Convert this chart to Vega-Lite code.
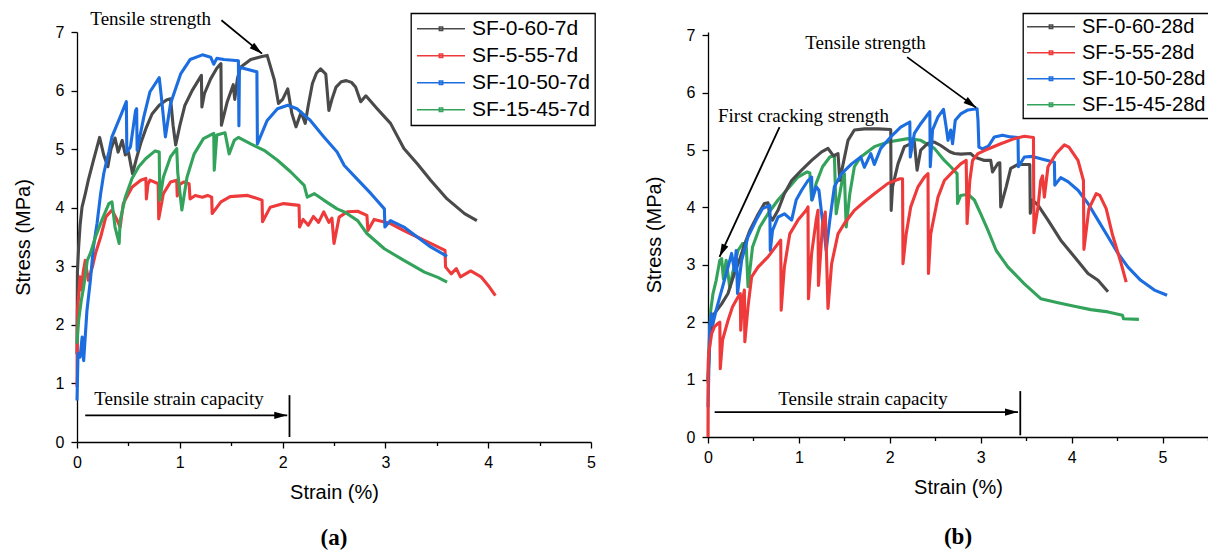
{
"$schema":"https://vega.github.io/schema/vega-lite/v6.json",
"background":"white",
"padding":{"left":13,"top":9,"right":0,"bottom":0},
"spacing":48,
"resolve":{"scale":{"color":"independent"},"legend":{"color":"independent"}},
"config":{
 "view":{"stroke":null},
 "font":"Liberation Sans",
 "axis":{"grid":false,"domainColor":"#000","domainWidth":1.3,"tickColor":"#000","tickWidth":1.3,"labelFont":"Liberation Sans","labelFontSize":16,"labelColor":"#000","titleFont":"Liberation Sans","titleFontSize":20,"titleFontWeight":"normal","titleColor":"#000","labelFlush":false,"labelOverlap":false},
 "legend":{"title":null,"orient":"none","strokeColor":"#000","strokeWidth":1.3,"fillColor":"#fff","labelFont":"Liberation Sans","labelColor":"#000","symbolType":"M-1,0H1M-0.07,-0.07H0.07V0.07H-0.07Z","symbolSize":2304,"symbolStrokeWidth":1.5,"labelOffset":6,"clipHeight":21,"rowPadding":5}
},
"datasets":{
"a":[
{"s":"SF-0-60-7d","x":0,"y":1.5},{"s":"SF-0-60-7d","x":0.004,"y":2.9},{"s":"SF-0-60-7d","x":0.016,"y":3.33},{"s":"SF-0-60-7d","x":0.03,"y":3.7},{"s":"SF-0-60-7d","x":0.049,"y":4.01},{"s":"SF-0-60-7d","x":0.081,"y":4.24},{"s":"SF-0-60-7d","x":0.11,"y":4.47},{"s":"SF-0-60-7d","x":0.16,"y":4.81},{"s":"SF-0-60-7d","x":0.22,"y":5.2},{"s":"SF-0-60-7d","x":0.26,"y":4.9},{"s":"SF-0-60-7d","x":0.3,"y":4.7},{"s":"SF-0-60-7d","x":0.33,"y":5.0},{"s":"SF-0-60-7d","x":0.37,"y":5.19},{"s":"SF-0-60-7d","x":0.4,"y":4.95},{"s":"SF-0-60-7d","x":0.44,"y":5.15},{"s":"SF-0-60-7d","x":0.47,"y":4.9},{"s":"SF-0-60-7d","x":0.5,"y":4.95},{"s":"SF-0-60-7d","x":0.54,"y":4.58},{"s":"SF-0-60-7d","x":0.58,"y":4.85},{"s":"SF-0-60-7d","x":0.62,"y":5.1},{"s":"SF-0-60-7d","x":0.67,"y":5.35},{"s":"SF-0-60-7d","x":0.73,"y":5.6},{"s":"SF-0-60-7d","x":0.8,"y":5.75},{"s":"SF-0-60-7d","x":0.87,"y":5.84},{"s":"SF-0-60-7d","x":0.91,"y":5.86},{"s":"SF-0-60-7d","x":0.935,"y":5.4},{"s":"SF-0-60-7d","x":0.96,"y":5.07},{"s":"SF-0-60-7d","x":1.0,"y":5.4},{"s":"SF-0-60-7d","x":1.05,"y":5.75},{"s":"SF-0-60-7d","x":1.12,"y":6.0},{"s":"SF-0-60-7d","x":1.21,"y":6.26},{"s":"SF-0-60-7d","x":1.215,"y":5.72},{"s":"SF-0-60-7d","x":1.24,"y":5.95},{"s":"SF-0-60-7d","x":1.3,"y":6.2},{"s":"SF-0-60-7d","x":1.36,"y":6.38},{"s":"SF-0-60-7d","x":1.4,"y":6.46},{"s":"SF-0-60-7d","x":1.405,"y":5.41},{"s":"SF-0-60-7d","x":1.46,"y":5.8},{"s":"SF-0-60-7d","x":1.52,"y":6.1},{"s":"SF-0-60-7d","x":1.535,"y":5.85},{"s":"SF-0-60-7d","x":1.56,"y":6.2},{"s":"SF-0-60-7d","x":1.59,"y":6.4},{"s":"SF-0-60-7d","x":1.69,"y":6.53},{"s":"SF-0-60-7d","x":1.8,"y":6.58},{"s":"SF-0-60-7d","x":1.85,"y":6.6},{"s":"SF-0-60-7d","x":1.92,"y":6.18},{"s":"SF-0-60-7d","x":1.96,"y":5.78},{"s":"SF-0-60-7d","x":2.0,"y":5.85},{"s":"SF-0-60-7d","x":2.05,"y":6.03},{"s":"SF-0-60-7d","x":2.09,"y":5.61},{"s":"SF-0-60-7d","x":2.13,"y":5.38},{"s":"SF-0-60-7d","x":2.18,"y":5.63},{"s":"SF-0-60-7d","x":2.22,"y":5.44},{"s":"SF-0-60-7d","x":2.25,"y":5.75},{"s":"SF-0-60-7d","x":2.29,"y":6.12},{"s":"SF-0-60-7d","x":2.33,"y":6.3},{"s":"SF-0-60-7d","x":2.37,"y":6.37},{"s":"SF-0-60-7d","x":2.42,"y":6.28},{"s":"SF-0-60-7d","x":2.45,"y":5.66},{"s":"SF-0-60-7d","x":2.48,"y":5.85},{"s":"SF-0-60-7d","x":2.52,"y":6.06},{"s":"SF-0-60-7d","x":2.57,"y":6.15},{"s":"SF-0-60-7d","x":2.62,"y":6.17},{"s":"SF-0-60-7d","x":2.67,"y":6.14},{"s":"SF-0-60-7d","x":2.71,"y":6.06},{"s":"SF-0-60-7d","x":2.76,"y":5.81},{"s":"SF-0-60-7d","x":2.81,"y":5.91},{"s":"SF-0-60-7d","x":2.92,"y":5.69},{"s":"SF-0-60-7d","x":3.05,"y":5.44},{"s":"SF-0-60-7d","x":3.18,"y":5.01},{"s":"SF-0-60-7d","x":3.31,"y":4.75},{"s":"SF-0-60-7d","x":3.44,"y":4.47},{"s":"SF-0-60-7d","x":3.6,"y":4.15},{"s":"SF-0-60-7d","x":3.77,"y":3.9},{"s":"SF-0-60-7d","x":3.89,"y":3.78},
{"s":"SF-5-55-7d","x":0,"y":0.94},{"s":"SF-5-55-7d","x":0.004,"y":2.25},{"s":"SF-5-55-7d","x":0.016,"y":2.48},{"s":"SF-5-55-7d","x":0.03,"y":2.82},{"s":"SF-5-55-7d","x":0.045,"y":2.6},{"s":"SF-5-55-7d","x":0.06,"y":2.9},{"s":"SF-5-55-7d","x":0.08,"y":3.1},{"s":"SF-5-55-7d","x":0.11,"y":2.76},{"s":"SF-5-55-7d","x":0.15,"y":2.99},{"s":"SF-5-55-7d","x":0.18,"y":3.22},{"s":"SF-5-55-7d","x":0.23,"y":3.5},{"s":"SF-5-55-7d","x":0.28,"y":3.84},{"s":"SF-5-55-7d","x":0.34,"y":3.96},{"s":"SF-5-55-7d","x":0.39,"y":3.79},{"s":"SF-5-55-7d","x":0.42,"y":3.67},{"s":"SF-5-55-7d","x":0.45,"y":4.07},{"s":"SF-5-55-7d","x":0.535,"y":4.35},{"s":"SF-5-55-7d","x":0.62,"y":4.47},{"s":"SF-5-55-7d","x":0.67,"y":4.5},{"s":"SF-5-55-7d","x":0.675,"y":4.15},{"s":"SF-5-55-7d","x":0.69,"y":4.4},{"s":"SF-5-55-7d","x":0.71,"y":4.47},{"s":"SF-5-55-7d","x":0.79,"y":4.41},{"s":"SF-5-55-7d","x":0.795,"y":3.81},{"s":"SF-5-55-7d","x":0.84,"y":4.24},{"s":"SF-5-55-7d","x":0.91,"y":4.44},{"s":"SF-5-55-7d","x":0.97,"y":4.47},{"s":"SF-5-55-7d","x":0.975,"y":4.2},{"s":"SF-5-55-7d","x":1.0,"y":4.4},{"s":"SF-5-55-7d","x":1.04,"y":4.44},{"s":"SF-5-55-7d","x":1.09,"y":4.41},{"s":"SF-5-55-7d","x":1.1,"y":4.15},{"s":"SF-5-55-7d","x":1.15,"y":4.21},{"s":"SF-5-55-7d","x":1.22,"y":4.18},{"s":"SF-5-55-7d","x":1.27,"y":4.21},{"s":"SF-5-55-7d","x":1.31,"y":4.18},{"s":"SF-5-55-7d","x":1.315,"y":3.9},{"s":"SF-5-55-7d","x":1.4,"y":4.1},{"s":"SF-5-55-7d","x":1.49,"y":4.19},{"s":"SF-5-55-7d","x":1.66,"y":4.21},{"s":"SF-5-55-7d","x":1.8,"y":4.13},{"s":"SF-5-55-7d","x":1.805,"y":3.76},{"s":"SF-5-55-7d","x":1.88,"y":4.01},{"s":"SF-5-55-7d","x":2.01,"y":4.07},{"s":"SF-5-55-7d","x":2.16,"y":4.04},{"s":"SF-5-55-7d","x":2.165,"y":3.67},{"s":"SF-5-55-7d","x":2.2,"y":3.8},{"s":"SF-5-55-7d","x":2.25,"y":3.7},{"s":"SF-5-55-7d","x":2.3,"y":3.85},{"s":"SF-5-55-7d","x":2.35,"y":3.75},{"s":"SF-5-55-7d","x":2.4,"y":3.93},{"s":"SF-5-55-7d","x":2.45,"y":3.75},{"s":"SF-5-55-7d","x":2.48,"y":3.82},{"s":"SF-5-55-7d","x":2.5,"y":3.39},{"s":"SF-5-55-7d","x":2.55,"y":3.84},{"s":"SF-5-55-7d","x":2.63,"y":3.93},{"s":"SF-5-55-7d","x":2.73,"y":3.94},{"s":"SF-5-55-7d","x":2.82,"y":3.87},{"s":"SF-5-55-7d","x":2.83,"y":3.61},{"s":"SF-5-55-7d","x":2.89,"y":3.8},{"s":"SF-5-55-7d","x":3.05,"y":3.73},{"s":"SF-5-55-7d","x":3.18,"y":3.61},{"s":"SF-5-55-7d","x":3.31,"y":3.5},{"s":"SF-5-55-7d","x":3.44,"y":3.39},{"s":"SF-5-55-7d","x":3.58,"y":3.27},{"s":"SF-5-55-7d","x":3.585,"y":2.99},{"s":"SF-5-55-7d","x":3.64,"y":2.87},{"s":"SF-5-55-7d","x":3.69,"y":2.96},{"s":"SF-5-55-7d","x":3.73,"y":2.82},{"s":"SF-5-55-7d","x":3.83,"y":2.92},{"s":"SF-5-55-7d","x":3.93,"y":2.82},{"s":"SF-5-55-7d","x":4.01,"y":2.65},{"s":"SF-5-55-7d","x":4.07,"y":2.5},
{"s":"SF-10-50-7d","x":0,"y":0.71},{"s":"SF-10-50-7d","x":0.01,"y":1.51},{"s":"SF-10-50-7d","x":0.03,"y":1.45},{"s":"SF-10-50-7d","x":0.05,"y":1.79},{"s":"SF-10-50-7d","x":0.065,"y":1.39},{"s":"SF-10-50-7d","x":0.097,"y":2.25},{"s":"SF-10-50-7d","x":0.13,"y":2.76},{"s":"SF-10-50-7d","x":0.16,"y":3.33},{"s":"SF-10-50-7d","x":0.195,"y":3.73},{"s":"SF-10-50-7d","x":0.23,"y":4.24},{"s":"SF-10-50-7d","x":0.26,"y":4.58},{"s":"SF-10-50-7d","x":0.29,"y":4.81},{"s":"SF-10-50-7d","x":0.31,"y":4.95},{"s":"SF-10-50-7d","x":0.34,"y":5.21},{"s":"SF-10-50-7d","x":0.42,"y":5.55},{"s":"SF-10-50-7d","x":0.48,"y":5.81},{"s":"SF-10-50-7d","x":0.485,"y":4.95},{"s":"SF-10-50-7d","x":0.52,"y":5.04},{"s":"SF-10-50-7d","x":0.57,"y":5.66},{"s":"SF-10-50-7d","x":0.58,"y":5.69},{"s":"SF-10-50-7d","x":0.585,"y":4.98},{"s":"SF-10-50-7d","x":0.65,"y":5.55},{"s":"SF-10-50-7d","x":0.71,"y":5.98},{"s":"SF-10-50-7d","x":0.8,"y":6.22},{"s":"SF-10-50-7d","x":0.82,"y":5.9},{"s":"SF-10-50-7d","x":0.86,"y":5.21},{"s":"SF-10-50-7d","x":0.91,"y":5.78},{"s":"SF-10-50-7d","x":1.01,"y":6.29},{"s":"SF-10-50-7d","x":1.1,"y":6.53},{"s":"SF-10-50-7d","x":1.22,"y":6.61},{"s":"SF-10-50-7d","x":1.3,"y":6.57},{"s":"SF-10-50-7d","x":1.33,"y":6.45},{"s":"SF-10-50-7d","x":1.36,"y":6.55},{"s":"SF-10-50-7d","x":1.43,"y":6.53},{"s":"SF-10-50-7d","x":1.57,"y":6.51},{"s":"SF-10-50-7d","x":1.575,"y":5.4},{"s":"SF-10-50-7d","x":1.58,"y":6.4},{"s":"SF-10-50-7d","x":1.75,"y":6.32},{"s":"SF-10-50-7d","x":1.755,"y":5.09},{"s":"SF-10-50-7d","x":1.85,"y":5.49},{"s":"SF-10-50-7d","x":1.95,"y":5.69},{"s":"SF-10-50-7d","x":2.05,"y":5.75},{"s":"SF-10-50-7d","x":2.14,"y":5.69},{"s":"SF-10-50-7d","x":2.27,"y":5.49},{"s":"SF-10-50-7d","x":2.4,"y":5.21},{"s":"SF-10-50-7d","x":2.53,"y":4.95},{"s":"SF-10-50-7d","x":2.6,"y":4.72},{"s":"SF-10-50-7d","x":2.73,"y":4.48},{"s":"SF-10-50-7d","x":2.86,"y":4.24},{"s":"SF-10-50-7d","x":2.99,"y":3.98},{"s":"SF-10-50-7d","x":2.995,"y":3.67},{"s":"SF-10-50-7d","x":3.05,"y":3.78},{"s":"SF-10-50-7d","x":3.18,"y":3.67},{"s":"SF-10-50-7d","x":3.31,"y":3.5},{"s":"SF-10-50-7d","x":3.44,"y":3.33},{"s":"SF-10-50-7d","x":3.6,"y":3.17},
{"s":"SF-15-45-7d","x":0,"y":1.68},{"s":"SF-15-45-7d","x":0.016,"y":2.08},{"s":"SF-15-45-7d","x":0.04,"y":2.4},{"s":"SF-15-45-7d","x":0.065,"y":2.65},{"s":"SF-15-45-7d","x":0.1,"y":3.1},{"s":"SF-15-45-7d","x":0.13,"y":3.22},{"s":"SF-15-45-7d","x":0.18,"y":3.5},{"s":"SF-15-45-7d","x":0.24,"y":3.78},{"s":"SF-15-45-7d","x":0.31,"y":4.07},{"s":"SF-15-45-7d","x":0.34,"y":4.1},{"s":"SF-15-45-7d","x":0.37,"y":3.67},{"s":"SF-15-45-7d","x":0.41,"y":3.39},{"s":"SF-15-45-7d","x":0.42,"y":3.78},{"s":"SF-15-45-7d","x":0.47,"y":4.18},{"s":"SF-15-45-7d","x":0.535,"y":4.5},{"s":"SF-15-45-7d","x":0.6,"y":4.7},{"s":"SF-15-45-7d","x":0.67,"y":4.84},{"s":"SF-15-45-7d","x":0.76,"y":4.97},{"s":"SF-15-45-7d","x":0.8,"y":4.95},{"s":"SF-15-45-7d","x":0.805,"y":4.13},{"s":"SF-15-45-7d","x":0.84,"y":4.52},{"s":"SF-15-45-7d","x":0.91,"y":4.87},{"s":"SF-15-45-7d","x":0.97,"y":5.01},{"s":"SF-15-45-7d","x":0.98,"y":4.6},{"s":"SF-15-45-7d","x":1.02,"y":3.96},{"s":"SF-15-45-7d","x":1.07,"y":4.52},{"s":"SF-15-45-7d","x":1.14,"y":4.92},{"s":"SF-15-45-7d","x":1.23,"y":5.18},{"s":"SF-15-45-7d","x":1.33,"y":5.27},{"s":"SF-15-45-7d","x":1.335,"y":4.64},{"s":"SF-15-45-7d","x":1.36,"y":5.24},{"s":"SF-15-45-7d","x":1.44,"y":5.28},{"s":"SF-15-45-7d","x":1.48,"y":4.92},{"s":"SF-15-45-7d","x":1.53,"y":5.15},{"s":"SF-15-45-7d","x":1.57,"y":5.2},{"s":"SF-15-45-7d","x":1.69,"y":5.09},{"s":"SF-15-45-7d","x":1.82,"y":4.98},{"s":"SF-15-45-7d","x":1.95,"y":4.81},{"s":"SF-15-45-7d","x":2.08,"y":4.61},{"s":"SF-15-45-7d","x":2.21,"y":4.38},{"s":"SF-15-45-7d","x":2.24,"y":4.18},{"s":"SF-15-45-7d","x":2.31,"y":4.24},{"s":"SF-15-45-7d","x":2.4,"y":4.13},{"s":"SF-15-45-7d","x":2.53,"y":3.98},{"s":"SF-15-45-7d","x":2.6,"y":3.93},{"s":"SF-15-45-7d","x":2.73,"y":3.78},{"s":"SF-15-45-7d","x":2.82,"y":3.56},{"s":"SF-15-45-7d","x":2.99,"y":3.3},{"s":"SF-15-45-7d","x":3.18,"y":3.1},{"s":"SF-15-45-7d","x":3.38,"y":2.9},{"s":"SF-15-45-7d","x":3.51,"y":2.81},{"s":"SF-15-45-7d","x":3.6,"y":2.73}
],
"b":[
{"s":"SF-15-45-28d","x":0,"y":0.93},{"s":"SF-15-45-28d","x":0.007,"y":1.34},{"s":"SF-15-45-28d","x":0.03,"y":2.21},{"s":"SF-15-45-28d","x":0.055,"y":2.5},{"s":"SF-15-45-28d","x":0.09,"y":2.73},{"s":"SF-15-45-28d","x":0.13,"y":3.08},{"s":"SF-15-45-28d","x":0.15,"y":3.11},{"s":"SF-15-45-28d","x":0.17,"y":2.75},{"s":"SF-15-45-28d","x":0.2,"y":3.08},{"s":"SF-15-45-28d","x":0.24,"y":2.6},{"s":"SF-15-45-28d","x":0.27,"y":2.85},{"s":"SF-15-45-28d","x":0.33,"y":3.25},{"s":"SF-15-45-28d","x":0.38,"y":3.37},{"s":"SF-15-45-28d","x":0.42,"y":3.37},{"s":"SF-15-45-28d","x":0.44,"y":2.62},{"s":"SF-15-45-28d","x":0.49,"y":3.31},{"s":"SF-15-45-28d","x":0.57,"y":3.66},{"s":"SF-15-45-28d","x":0.66,"y":3.89},{"s":"SF-15-45-28d","x":0.77,"y":4.13},{"s":"SF-15-45-28d","x":0.88,"y":4.33},{"s":"SF-15-45-28d","x":0.99,"y":4.53},{"s":"SF-15-45-28d","x":1.09,"y":4.62},{"s":"SF-15-45-28d","x":1.12,"y":4.6},{"s":"SF-15-45-28d","x":1.14,"y":4.13},{"s":"SF-15-45-28d","x":1.19,"y":4.42},{"s":"SF-15-45-28d","x":1.26,"y":4.71},{"s":"SF-15-45-28d","x":1.34,"y":4.88},{"s":"SF-15-45-28d","x":1.39,"y":4.91},{"s":"SF-15-45-28d","x":1.41,"y":3.89},{"s":"SF-15-45-28d","x":1.47,"y":4.42},{"s":"SF-15-45-28d","x":1.5,"y":4.59},{"s":"SF-15-45-28d","x":1.52,"y":3.66},{"s":"SF-15-45-28d","x":1.56,"y":4.24},{"s":"SF-15-45-28d","x":1.61,"y":4.71},{"s":"SF-15-45-28d","x":1.68,"y":4.88},{"s":"SF-15-45-28d","x":1.83,"y":5.06},{"s":"SF-15-45-28d","x":1.98,"y":5.14},{"s":"SF-15-45-28d","x":2.2,"y":5.2},{"s":"SF-15-45-28d","x":2.34,"y":5.17},{"s":"SF-15-45-28d","x":2.49,"y":5.03},{"s":"SF-15-45-28d","x":2.6,"y":4.82},{"s":"SF-15-45-28d","x":2.67,"y":4.71},{"s":"SF-15-45-28d","x":2.74,"y":4.59},{"s":"SF-15-45-28d","x":2.745,"y":4.07},{"s":"SF-15-45-28d","x":2.78,"y":4.21},{"s":"SF-15-45-28d","x":2.86,"y":4.23},{"s":"SF-15-45-28d","x":2.93,"y":4.13},{"s":"SF-15-45-28d","x":3.0,"y":3.89},{"s":"SF-15-45-28d","x":3.08,"y":3.6},{"s":"SF-15-45-28d","x":3.17,"y":3.25},{"s":"SF-15-45-28d","x":3.3,"y":2.96},{"s":"SF-15-45-28d","x":3.48,"y":2.67},{"s":"SF-15-45-28d","x":3.66,"y":2.41},{"s":"SF-15-45-28d","x":3.85,"y":2.34},{"s":"SF-15-45-28d","x":4.03,"y":2.28},{"s":"SF-15-45-28d","x":4.21,"y":2.22},{"s":"SF-15-45-28d","x":4.4,"y":2.18},{"s":"SF-15-45-28d","x":4.56,"y":2.12},{"s":"SF-15-45-28d","x":4.57,"y":2.06},{"s":"SF-15-45-28d","x":4.74,"y":2.05},
{"s":"SF-0-60-28d","x":0,"y":1.0},{"s":"SF-0-60-28d","x":0.02,"y":1.69},{"s":"SF-0-60-28d","x":0.07,"y":2.15},{"s":"SF-0-60-28d","x":0.15,"y":2.32},{"s":"SF-0-60-28d","x":0.22,"y":2.5},{"s":"SF-0-60-28d","x":0.29,"y":2.85},{"s":"SF-0-60-28d","x":0.35,"y":3.1},{"s":"SF-0-60-28d","x":0.4,"y":3.35},{"s":"SF-0-60-28d","x":0.46,"y":3.6},{"s":"SF-0-60-28d","x":0.54,"y":3.85},{"s":"SF-0-60-28d","x":0.62,"y":4.07},{"s":"SF-0-60-28d","x":0.66,"y":4.08},{"s":"SF-0-60-28d","x":0.68,"y":3.85},{"s":"SF-0-60-28d","x":0.71,"y":3.78},{"s":"SF-0-60-28d","x":0.77,"y":3.95},{"s":"SF-0-60-28d","x":0.84,"y":4.24},{"s":"SF-0-60-28d","x":0.92,"y":4.47},{"s":"SF-0-60-28d","x":1.03,"y":4.65},{"s":"SF-0-60-28d","x":1.14,"y":4.82},{"s":"SF-0-60-28d","x":1.25,"y":4.97},{"s":"SF-0-60-28d","x":1.32,"y":5.03},{"s":"SF-0-60-28d","x":1.38,"y":4.9},{"s":"SF-0-60-28d","x":1.43,"y":4.94},{"s":"SF-0-60-28d","x":1.45,"y":4.47},{"s":"SF-0-60-28d","x":1.48,"y":4.71},{"s":"SF-0-60-28d","x":1.54,"y":5.17},{"s":"SF-0-60-28d","x":1.61,"y":5.35},{"s":"SF-0-60-28d","x":1.72,"y":5.37},{"s":"SF-0-60-28d","x":1.87,"y":5.37},{"s":"SF-0-60-28d","x":2.01,"y":5.36},{"s":"SF-0-60-28d","x":2.015,"y":3.95},{"s":"SF-0-60-28d","x":2.03,"y":4.36},{"s":"SF-0-60-28d","x":2.09,"y":4.76},{"s":"SF-0-60-28d","x":2.16,"y":5.06},{"s":"SF-0-60-28d","x":2.27,"y":5.14},{"s":"SF-0-60-28d","x":2.3,"y":4.65},{"s":"SF-0-60-28d","x":2.34,"y":5.0},{"s":"SF-0-60-28d","x":2.42,"y":5.12},{"s":"SF-0-60-28d","x":2.49,"y":5.14},{"s":"SF-0-60-28d","x":2.56,"y":5.08},{"s":"SF-0-60-28d","x":2.66,"y":4.97},{"s":"SF-0-60-28d","x":2.71,"y":4.94},{"s":"SF-0-60-28d","x":2.78,"y":4.93},{"s":"SF-0-60-28d","x":2.89,"y":4.94},{"s":"SF-0-60-28d","x":2.93,"y":4.88},{"s":"SF-0-60-28d","x":3.04,"y":4.82},{"s":"SF-0-60-28d","x":3.11,"y":4.82},{"s":"SF-0-60-28d","x":3.13,"y":4.62},{"s":"SF-0-60-28d","x":3.19,"y":4.77},{"s":"SF-0-60-28d","x":3.21,"y":4.78},{"s":"SF-0-60-28d","x":3.22,"y":4.01},{"s":"SF-0-60-28d","x":3.28,"y":4.36},{"s":"SF-0-60-28d","x":3.33,"y":4.68},{"s":"SF-0-60-28d","x":3.41,"y":4.75},{"s":"SF-0-60-28d","x":3.54,"y":4.75},{"s":"SF-0-60-28d","x":3.545,"y":3.9},{"s":"SF-0-60-28d","x":3.57,"y":4.13},{"s":"SF-0-60-28d","x":3.63,"y":4.04},{"s":"SF-0-60-28d","x":3.74,"y":3.78},{"s":"SF-0-60-28d","x":3.88,"y":3.43},{"s":"SF-0-60-28d","x":4.03,"y":3.14},{"s":"SF-0-60-28d","x":4.18,"y":2.85},{"s":"SF-0-60-28d","x":4.29,"y":2.73},{"s":"SF-0-60-28d","x":4.4,"y":2.53},
{"s":"SF-10-50-28d","x":0,"y":0.52},{"s":"SF-10-50-28d","x":0.007,"y":0.99},{"s":"SF-10-50-28d","x":0.018,"y":1.92},{"s":"SF-10-50-28d","x":0.037,"y":2.15},{"s":"SF-10-50-28d","x":0.05,"y":1.95},{"s":"SF-10-50-28d","x":0.09,"y":2.21},{"s":"SF-10-50-28d","x":0.14,"y":2.5},{"s":"SF-10-50-28d","x":0.18,"y":2.73},{"s":"SF-10-50-28d","x":0.22,"y":2.96},{"s":"SF-10-50-28d","x":0.26,"y":3.2},{"s":"SF-10-50-28d","x":0.29,"y":2.9},{"s":"SF-10-50-28d","x":0.31,"y":3.25},{"s":"SF-10-50-28d","x":0.325,"y":2.5},{"s":"SF-10-50-28d","x":0.37,"y":3.08},{"s":"SF-10-50-28d","x":0.44,"y":3.49},{"s":"SF-10-50-28d","x":0.53,"y":3.78},{"s":"SF-10-50-28d","x":0.6,"y":3.98},{"s":"SF-10-50-28d","x":0.68,"y":4.04},{"s":"SF-10-50-28d","x":0.685,"y":3.25},{"s":"SF-10-50-28d","x":0.71,"y":3.6},{"s":"SF-10-50-28d","x":0.77,"y":3.83},{"s":"SF-10-50-28d","x":0.84,"y":3.89},{"s":"SF-10-50-28d","x":0.92,"y":3.78},{"s":"SF-10-50-28d","x":0.97,"y":4.13},{"s":"SF-10-50-28d","x":1.03,"y":4.3},{"s":"SF-10-50-28d","x":1.1,"y":4.47},{"s":"SF-10-50-28d","x":1.14,"y":4.53},{"s":"SF-10-50-28d","x":1.145,"y":4.13},{"s":"SF-10-50-28d","x":1.19,"y":4.36},{"s":"SF-10-50-28d","x":1.22,"y":4.3},{"s":"SF-10-50-28d","x":1.25,"y":3.89},{"s":"SF-10-50-28d","x":1.28,"y":3.54},{"s":"SF-10-50-28d","x":1.3,"y":3.25},{"s":"SF-10-50-28d","x":1.34,"y":3.78},{"s":"SF-10-50-28d","x":1.39,"y":4.36},{"s":"SF-10-50-28d","x":1.47,"y":4.59},{"s":"SF-10-50-28d","x":1.58,"y":4.76},{"s":"SF-10-50-28d","x":1.68,"y":4.88},{"s":"SF-10-50-28d","x":1.72,"y":4.7},{"s":"SF-10-50-28d","x":1.79,"y":4.94},{"s":"SF-10-50-28d","x":1.83,"y":4.75},{"s":"SF-10-50-28d","x":1.9,"y":5.03},{"s":"SF-10-50-28d","x":2.01,"y":5.23},{"s":"SF-10-50-28d","x":2.12,"y":5.4},{"s":"SF-10-50-28d","x":2.22,"y":5.49},{"s":"SF-10-50-28d","x":2.225,"y":4.88},{"s":"SF-10-50-28d","x":2.27,"y":5.29},{"s":"SF-10-50-28d","x":2.34,"y":5.46},{"s":"SF-10-50-28d","x":2.44,"y":5.67},{"s":"SF-10-50-28d","x":2.445,"y":4.71},{"s":"SF-10-50-28d","x":2.47,"y":5.35},{"s":"SF-10-50-28d","x":2.53,"y":5.58},{"s":"SF-10-50-28d","x":2.59,"y":5.71},{"s":"SF-10-50-28d","x":2.62,"y":5.4},{"s":"SF-10-50-28d","x":2.64,"y":5.17},{"s":"SF-10-50-28d","x":2.67,"y":5.35},{"s":"SF-10-50-28d","x":2.69,"y":5.11},{"s":"SF-10-50-28d","x":2.72,"y":5.52},{"s":"SF-10-50-28d","x":2.78,"y":5.63},{"s":"SF-10-50-28d","x":2.86,"y":5.7},{"s":"SF-10-50-28d","x":2.96,"y":5.72},{"s":"SF-10-50-28d","x":2.97,"y":5.52},{"s":"SF-10-50-28d","x":2.98,"y":5.05},{"s":"SF-10-50-28d","x":3.02,"y":5.02},{"s":"SF-10-50-28d","x":3.06,"y":5.05},{"s":"SF-10-50-28d","x":3.09,"y":5.08},{"s":"SF-10-50-28d","x":3.15,"y":5.23},{"s":"SF-10-50-28d","x":3.24,"y":5.26},{"s":"SF-10-50-28d","x":3.33,"y":5.23},{"s":"SF-10-50-28d","x":3.41,"y":5.22},{"s":"SF-10-50-28d","x":3.415,"y":4.71},{"s":"SF-10-50-28d","x":3.48,"y":4.88},{"s":"SF-10-50-28d","x":3.57,"y":4.89},{"s":"SF-10-50-28d","x":3.66,"y":4.85},{"s":"SF-10-50-28d","x":3.81,"y":4.79},{"s":"SF-10-50-28d","x":3.815,"y":4.39},{"s":"SF-10-50-28d","x":3.88,"y":4.52},{"s":"SF-10-50-28d","x":3.96,"y":4.45},{"s":"SF-10-50-28d","x":4.07,"y":4.3},{"s":"SF-10-50-28d","x":4.18,"y":4.07},{"s":"SF-10-50-28d","x":4.29,"y":3.78},{"s":"SF-10-50-28d","x":4.4,"y":3.49},{"s":"SF-10-50-28d","x":4.51,"y":3.2},{"s":"SF-10-50-28d","x":4.62,"y":2.96},{"s":"SF-10-50-28d","x":4.76,"y":2.73},{"s":"SF-10-50-28d","x":4.91,"y":2.56},{"s":"SF-10-50-28d","x":5.05,"y":2.47},
{"s":"SF-5-55-28d","x":0,"y":0},{"s":"SF-5-55-28d","x":0.002,"y":1.28},{"s":"SF-5-55-28d","x":0.007,"y":1.45},{"s":"SF-5-55-28d","x":0.04,"y":1.8},{"s":"SF-5-55-28d","x":0.07,"y":1.92},{"s":"SF-5-55-28d","x":0.11,"y":1.98},{"s":"SF-5-55-28d","x":0.13,"y":2.0},{"s":"SF-5-55-28d","x":0.135,"y":1.19},{"s":"SF-5-55-28d","x":0.16,"y":1.69},{"s":"SF-5-55-28d","x":0.22,"y":2.03},{"s":"SF-5-55-28d","x":0.27,"y":2.27},{"s":"SF-5-55-28d","x":0.33,"y":2.44},{"s":"SF-5-55-28d","x":0.355,"y":2.5},{"s":"SF-5-55-28d","x":0.36,"y":1.86},{"s":"SF-5-55-28d","x":0.38,"y":2.38},{"s":"SF-5-55-28d","x":0.4,"y":2.56},{"s":"SF-5-55-28d","x":0.405,"y":1.66},{"s":"SF-5-55-28d","x":0.44,"y":2.27},{"s":"SF-5-55-28d","x":0.48,"y":2.79},{"s":"SF-5-55-28d","x":0.55,"y":2.96},{"s":"SF-5-55-28d","x":0.66,"y":3.14},{"s":"SF-5-55-28d","x":0.77,"y":3.37},{"s":"SF-5-55-28d","x":0.8,"y":3.43},{"s":"SF-5-55-28d","x":0.805,"y":2.21},{"s":"SF-5-55-28d","x":0.84,"y":2.96},{"s":"SF-5-55-28d","x":0.9,"y":3.54},{"s":"SF-5-55-28d","x":0.99,"y":3.78},{"s":"SF-5-55-28d","x":1.08,"y":3.95},{"s":"SF-5-55-28d","x":1.1,"y":4.01},{"s":"SF-5-55-28d","x":1.105,"y":2.41},{"s":"SF-5-55-28d","x":1.14,"y":3.2},{"s":"SF-5-55-28d","x":1.19,"y":3.78},{"s":"SF-5-55-28d","x":1.21,"y":3.95},{"s":"SF-5-55-28d","x":1.215,"y":2.64},{"s":"SF-5-55-28d","x":1.26,"y":3.7},{"s":"SF-5-55-28d","x":1.29,"y":3.92},{"s":"SF-5-55-28d","x":1.32,"y":2.24},{"s":"SF-5-55-28d","x":1.36,"y":3.02},{"s":"SF-5-55-28d","x":1.43,"y":3.54},{"s":"SF-5-55-28d","x":1.5,"y":3.72},{"s":"SF-5-55-28d","x":1.61,"y":3.95},{"s":"SF-5-55-28d","x":1.72,"y":4.1},{"s":"SF-5-55-28d","x":1.83,"y":4.24},{"s":"SF-5-55-28d","x":1.98,"y":4.42},{"s":"SF-5-55-28d","x":2.11,"y":4.5},{"s":"SF-5-55-28d","x":2.14,"y":4.5},{"s":"SF-5-55-28d","x":2.145,"y":3.02},{"s":"SF-5-55-28d","x":2.18,"y":3.54},{"s":"SF-5-55-28d","x":2.23,"y":4.01},{"s":"SF-5-55-28d","x":2.31,"y":4.36},{"s":"SF-5-55-28d","x":2.38,"y":4.53},{"s":"SF-5-55-28d","x":2.42,"y":4.59},{"s":"SF-5-55-28d","x":2.425,"y":2.85},{"s":"SF-5-55-28d","x":2.45,"y":3.54},{"s":"SF-5-55-28d","x":2.53,"y":4.18},{"s":"SF-5-55-28d","x":2.6,"y":4.47},{"s":"SF-5-55-28d","x":2.71,"y":4.65},{"s":"SF-5-55-28d","x":2.78,"y":4.76},{"s":"SF-5-55-28d","x":2.84,"y":4.82},{"s":"SF-5-55-28d","x":2.85,"y":3.72},{"s":"SF-5-55-28d","x":2.88,"y":4.47},{"s":"SF-5-55-28d","x":2.91,"y":4.82},{"s":"SF-5-55-28d","x":2.97,"y":4.94},{"s":"SF-5-55-28d","x":3.08,"y":5.02},{"s":"SF-5-55-28d","x":3.22,"y":5.11},{"s":"SF-5-55-28d","x":3.37,"y":5.2},{"s":"SF-5-55-28d","x":3.48,"y":5.24},{"s":"SF-5-55-28d","x":3.58,"y":5.22},{"s":"SF-5-55-28d","x":3.585,"y":3.56},{"s":"SF-5-55-28d","x":3.63,"y":4.01},{"s":"SF-5-55-28d","x":3.66,"y":4.47},{"s":"SF-5-55-28d","x":3.68,"y":4.55},{"s":"SF-5-55-28d","x":3.7,"y":4.18},{"s":"SF-5-55-28d","x":3.74,"y":4.71},{"s":"SF-5-55-28d","x":3.83,"y":4.94},{"s":"SF-5-55-28d","x":3.92,"y":5.09},{"s":"SF-5-55-28d","x":3.97,"y":5.05},{"s":"SF-5-55-28d","x":4.07,"y":4.82},{"s":"SF-5-55-28d","x":4.13,"y":4.47},{"s":"SF-5-55-28d","x":4.135,"y":3.27},{"s":"SF-5-55-28d","x":4.19,"y":3.98},{"s":"SF-5-55-28d","x":4.27,"y":4.24},{"s":"SF-5-55-28d","x":4.31,"y":4.21},{"s":"SF-5-55-28d","x":4.38,"y":3.98},{"s":"SF-5-55-28d","x":4.45,"y":3.52},{"s":"SF-5-55-28d","x":4.54,"y":3.05},{"s":"SF-5-55-28d","x":4.6,"y":2.7}
]
},
"hconcat":[
{
 "width":514,"height":410,
 "title":{"text":"(a)","orient":"bottom","anchor":"middle","font":"Liberation Serif","fontSize":23,"fontWeight":"bold","color":"#000","offset":25},
 "layer":[
  {"data":{"name":"a"},"mark":{"type":"line","strokeWidth":3.1,"strokeJoin":"round"},
   "encoding":{
    "x":{"field":"x","type":"quantitative","scale":{"domain":[0,5],"nice":false,"zero":false},
     "axis":{"title":"Strain (%)","values":[0,0.5,1,1.5,2,2.5,3,3.5,4,4.5,5],"labelExpr":"datum.value % 1 === 0 ? '' + datum.value : ''","tickSize":{"condition":{"test":"datum.value % 1 === 0","value":6},"value":3.5},"labelPadding":6,"titlePadding":12}},
    "y":{"field":"y","type":"quantitative","scale":{"domain":[0,7],"nice":false,"zero":false},
     "axis":{"title":"Stress (MPa)","values":[0,0.5,1,1.5,2,2.5,3,3.5,4,4.5,5,5.5,6,6.5,7],"labelExpr":"datum.value % 1 === 0 ? '' + datum.value : ''","tickSize":{"condition":{"test":"datum.value % 1 === 0","value":6},"value":3.5},"labelPadding":7,"titlePadding":22}},
    "color":{"field":"s","type":"nominal","scale":{"domain":["SF-0-60-7d","SF-5-55-7d","SF-10-50-7d","SF-15-45-7d"],"range":["#4a4a4a","#ee3a3a","#1c6ee0","#33a35c"]},
     "legend":{"legendX":334,"legendY":-18.7,"labelFontSize":21,"padding":5}}
   }},
  {"data":{"values":[{"t":"Tensile strength","x":0.13,"y":7.23},{"t":"Tensile strain capacity","x":0.168,"y":0.74}]},
   "mark":{"type":"text","align":"left","baseline":"middle","font":"Liberation Serif","fontSize":19,"color":"#000"},
   "encoding":{"x":{"field":"x","type":"quantitative"},"y":{"field":"y","type":"quantitative"},"text":{"field":"t"}}},
  {"data":{"values":[{"x":0.08,"y":0.455,"x2":2.045,"y2":0.455},{"x":2.067,"y":0.085,"x2":2.067,"y2":0.8},{"x":1.405,"y":7.2,"x2":1.8,"y2":6.63}]},
   "mark":{"type":"rule","color":"#000","strokeWidth":1.8},
   "encoding":{"x":{"field":"x","type":"quantitative"},"y":{"field":"y","type":"quantitative"},"x2":{"field":"x2"},"y2":{"field":"y2"}}},
  {"data":{"values":[{"x":2.045,"y":0.455}]},
   "mark":{"type":"point","shape":"M0,0L-1,-0.28L-1,0.28Z","filled":true,"color":"#000","opacity":1,"size":676,"angle":0,"strokeWidth":0},
   "encoding":{"x":{"field":"x","type":"quantitative"},"y":{"field":"y","type":"quantitative"}}},
  {"data":{"values":[{"x":1.8,"y":6.63}]},
   "mark":{"type":"point","shape":"M0,0L-1,-0.28L-1,0.28Z","filled":true,"color":"#000","opacity":1,"size":676,"angle":39,"strokeWidth":0},
   "encoding":{"x":{"field":"x","type":"quantitative"},"y":{"field":"y","type":"quantitative"}}}
 ]
},
{
 "width":500,"height":405,
 "title":{"text":"(b)","orient":"bottom","anchor":"middle","font":"Liberation Serif","fontSize":23,"fontWeight":"bold","color":"#000","offset":29},
 "layer":[
  {"data":{"name":"b"},"mark":{"type":"line","strokeWidth":3.1,"strokeJoin":"round"},
   "encoding":{
    "x":{"field":"x","type":"quantitative","scale":{"domain":[0,5.5],"nice":false,"zero":false},
     "axis":{"title":"Strain (%)","values":[0,0.5,1,1.5,2,2.5,3,3.5,4,4.5,5,5.5],"labelExpr":"datum.value % 1 === 0 ? '' + datum.value : ''","tickSize":{"condition":{"test":"datum.value % 1 === 0","value":6},"value":3.5},"labelPadding":6,"titlePadding":12}},
    "y":{"field":"y","type":"quantitative","scale":{"domain":[0,7.058],"nice":false,"zero":false},
     "axis":{"title":"Stress (MPa)","values":[0,0.5,1,1.5,2,2.5,3,3.5,4,4.5,5,5.5,6,6.5,7],"labelExpr":"datum.value % 1 === 0 ? '' + datum.value : ''","tickSize":{"condition":{"test":"datum.value % 1 === 0","value":6},"value":3.5},"labelPadding":7,"titlePadding":22}},
    "color":{"field":"s","type":"nominal","scale":{"domain":["SF-0-60-28d","SF-5-55-28d","SF-10-50-28d","SF-15-45-28d"],"range":["#4a4a4a","#ee3a3a","#1c6ee0","#33a35c"]},
     "legend":{"legendX":315,"legendY":-18.7,"labelFontSize":20,"padding":3}}
   }},
  {"data":{"values":[{"t":"Tensile strength","x":1.07,"y":6.86},{"t":"First cracking strength","x":0.11,"y":5.6},{"t":"Tensile strain capacity","x":0.773,"y":0.67}]},
   "mark":{"type":"text","align":"left","baseline":"middle","font":"Liberation Serif","fontSize":19,"color":"#000"},
   "encoding":{"x":{"field":"x","type":"quantitative"},"y":{"field":"y","type":"quantitative"},"text":{"field":"t"}}},
  {"data":{"values":[{"x":0.073,"y":0.435,"x2":3.41,"y2":0.435},{"x":3.435,"y":0.03,"x2":3.435,"y2":0.8},{"x":2.19,"y":6.62,"x2":2.95,"y2":5.74},{"x":0.787,"y":5.4,"x2":0.127,"y2":3.14}]},
   "mark":{"type":"rule","color":"#000","strokeWidth":1.8},
   "encoding":{"x":{"field":"x","type":"quantitative"},"y":{"field":"y","type":"quantitative"},"x2":{"field":"x2"},"y2":{"field":"y2"}}},
  {"data":{"values":[{"x":3.41,"y":0.435}]},
   "mark":{"type":"point","shape":"M0,0L-1,-0.28L-1,0.28Z","filled":true,"color":"#000","opacity":1,"size":676,"angle":0,"strokeWidth":0},
   "encoding":{"x":{"field":"x","type":"quantitative"},"y":{"field":"y","type":"quantitative"}}},
  {"data":{"values":[{"x":2.95,"y":5.74}]},
   "mark":{"type":"point","shape":"M0,0L-1,-0.28L-1,0.28Z","filled":true,"color":"#000","opacity":1,"size":676,"angle":36,"strokeWidth":0},
   "encoding":{"x":{"field":"x","type":"quantitative"},"y":{"field":"y","type":"quantitative"}}},
  {"data":{"values":[{"x":0.127,"y":3.14}]},
   "mark":{"type":"point","shape":"M0,0L-1,-0.28L-1,0.28Z","filled":true,"color":"#000","opacity":1,"size":676,"angle":115,"strokeWidth":0},
   "encoding":{"x":{"field":"x","type":"quantitative"},"y":{"field":"y","type":"quantitative"}}}
 ]
}
]
}
